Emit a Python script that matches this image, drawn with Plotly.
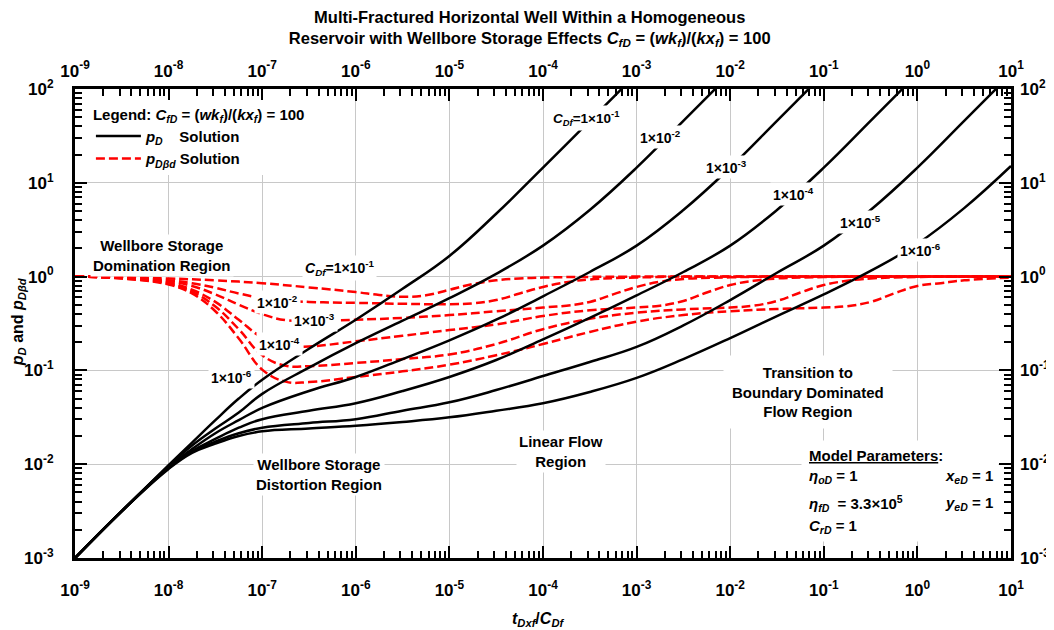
import plotly.graph_objects as go

# ---------------- data ----------------
cdf_names = ["1e-1", "1e-2", "1e-3", "1e-4", "1e-5", "1e-6"]

# black p_D curves (x = t_Dxf / C_Df)
t_grid = [1e-9, 3.16e-9, 1e-8, 1.78e-8, 3.16e-8, 5.62e-8, 1e-7, 3.16e-7, 1e-6, 3.16e-6,
          1e-5, 3.16e-5, 1e-4, 3.16e-4, 1e-3, 3.16e-3, 1e-2, 3.16e-2, 0.1, 0.316, 1, 3.16, 10]
pd_1e1 = [1e-3, 3.16e-3, 0.00977, 0.0170, 0.0295, 0.0501, 0.0794, 0.170, 0.347, 0.741,
          1.66, 4.68, 14.5, 45.7, 145]
pd_1e2 = [1e-3, 3.16e-3, 0.00955, 0.0158, 0.0240, 0.0355, 0.0562, 0.107, 0.195, 0.339,
          0.589, 1.07, 2.14, 5.13, 14.5, 45.7, 145]
pd_1e3 = [1e-3, 3.16e-3, 0.00933, 0.0145, 0.0214, 0.0295, 0.0398, 0.0603, 0.0851, 0.132,
          0.209, 0.347, 0.617, 1.12, 2.14, 5.13, 14.5, 45.7, 145]
pd_1e4 = [1e-3, 3.16e-3, 0.00912, 0.0138, 0.0186, 0.0245, 0.0302, 0.0372, 0.0447, 0.0603,
          0.0851, 0.129, 0.214, 0.363, 0.631, 1.12, 2.14, 5.13, 14.5, 45.7, 145]
pd_1e5 = [1e-3, 3.16e-3, 0.00912, 0.0135, 0.0174, 0.0214, 0.0245, 0.0275, 0.0302, 0.0372,
          0.0457, 0.0617, 0.0871, 0.123, 0.178, 0.302, 0.562, 1.10, 2.14, 5.13, 14.5, 45.7, 145]
pd_1e6 = [1e-3, 3.16e-3, 0.00891, 0.0132, 0.0166, 0.0200, 0.0224, 0.0240, 0.0257, 0.0282,
          0.0316, 0.0372, 0.0447, 0.0589, 0.0832, 0.132, 0.221, 0.380, 0.646, 1.15, 2.24, 5.37, 15.1]

# red p_Dbd curves
tb_1e1 = [1e-9, 3.16e-9, 1e-8, 3.16e-8, 1e-7, 3.16e-7, 1e-6, 1.78e-6, 3.16e-6, 5.62e-6, 1e-5,
          1.78e-5, 3.16e-5, 5.62e-5, 1e-4, 3.16e-4, 1e-3, 1e-2, 0.1, 1, 10]
pb_1e1 = [1.0, 0.982, 0.955, 0.912, 0.851, 0.767, 0.684, 0.638, 0.610, 0.631, 0.724,
          0.832, 0.912, 0.955, 0.977, 0.993, 1.0, 1.0, 1.0, 1.0, 1.0]
tb_1e2 = [1e-9, 3.16e-9, 1e-8, 1.78e-8, 3.16e-8, 5.62e-8, 1e-7, 1.78e-7, 3.16e-7, 1e-6, 3.16e-6,
          1e-5, 1.78e-5, 3.16e-5, 5.62e-5, 1e-4, 1.78e-4, 3.16e-4, 1e-3, 3.16e-3, 1e-2, 0.1, 1, 10]
pb_1e2 = [1.0, 0.977, 0.912, 0.851, 0.759, 0.661, 0.589, 0.556, 0.537, 0.525, 0.513,
          0.507, 0.519, 0.562, 0.661, 0.776, 0.871, 0.933, 0.977, 1.0, 1.0, 1.0, 1.0, 1.0]
tb_1e3 = [1e-9, 3.16e-9, 1e-8, 1.78e-8, 3.16e-8, 5.62e-8, 1e-7, 1.78e-7, 3.16e-7, 1e-6, 3.16e-6,
          1e-5, 3.16e-5, 1e-4, 1.78e-4, 3.16e-4, 5.62e-4, 1e-3, 1.78e-3, 3.16e-3, 1e-2, 3.16e-2,
          0.1, 1, 10]
pb_1e3 = [1.0, 0.973, 0.891, 0.794, 0.646, 0.501, 0.398, 0.343, 0.339, 0.347, 0.363,
          0.389, 0.427, 0.468, 0.490, 0.537, 0.646, 0.776, 0.881, 0.944, 0.982, 1.0,
          1.0, 1.0, 1.0]
tb_1e4 = [1e-9, 3.16e-9, 1e-8, 1.78e-8, 3.16e-8, 5.62e-8, 1e-7, 1.78e-7, 3.16e-7, 1e-6, 3.16e-6,
          1e-5, 3.16e-5, 1e-4, 3.16e-4, 1e-3, 1.78e-3, 3.16e-3, 5.62e-3, 1e-2, 1.78e-2, 3.16e-2,
          0.1, 0.316, 1, 10]
pb_1e4 = [1.0, 0.966, 0.861, 0.724, 0.537, 0.347, 0.224, 0.182, 0.180, 0.204, 0.234,
          0.269, 0.309, 0.380, 0.437, 0.468, 0.490, 0.550, 0.676, 0.813, 0.902, 0.955,
          0.989, 1.0, 1.0, 1.0]
tb_1e5 = [1e-9, 3.16e-9, 1e-8, 1.78e-8, 3.16e-8, 5.62e-8, 1e-7, 1.78e-7, 3.16e-7, 1e-6, 3.16e-6,
          1e-5, 3.16e-5, 1e-4, 3.16e-4, 1e-3, 3.16e-3, 1e-2, 1.78e-2, 3.16e-2, 5.62e-2, 0.1,
          0.178, 0.316, 1, 3.16, 10]
pb_1e5 = [1.0, 0.959, 0.841, 0.692, 0.479, 0.275, 0.145, 0.112, 0.111, 0.120, 0.132,
          0.148, 0.191, 0.275, 0.355, 0.412, 0.447, 0.468, 0.490, 0.550, 0.676, 0.813,
          0.902, 0.955, 0.989, 1.0, 1.0]
tb_1e6 = [1e-9, 3.16e-9, 1e-8, 1.78e-8, 3.16e-8, 5.62e-8, 1e-7, 1.78e-7, 3.16e-7, 1e-6, 3.16e-6,
          1e-5, 3.16e-5, 1e-4, 3.16e-4, 1e-3, 3.16e-3, 1e-2, 3.16e-2, 0.1, 0.178, 0.316,
          0.562, 1, 1.78, 3.16, 10]
pb_1e6 = [1.0, 0.955, 0.822, 0.661, 0.427, 0.219, 0.102, 0.0759, 0.0750, 0.0851, 0.0977,
          0.115, 0.145, 0.191, 0.257, 0.331, 0.389, 0.427, 0.452, 0.468, 0.484, 0.537,
          0.661, 0.794, 0.851, 0.912, 0.977]

# tick labels
x_tickvals = [1e-9, 1e-8, 1e-7, 1e-6, 1e-5, 1e-4, 1e-3, 1e-2, 1e-1, 1e0, 1e1]
x_ticktext = ["10<sup>-9</sup>", "10<sup>-8</sup>", "10<sup>-7</sup>", "10<sup>-6</sup>",
              "10<sup>-5</sup>", "10<sup>-4</sup>", "10<sup>-3</sup>", "10<sup>-2</sup>",
              "10<sup>-1</sup>", "10<sup>0</sup>", "10<sup>1</sup>"]
y_tickvals = [1e-3, 1e-2, 1e-1, 1e0, 1e1, 1e2]
y_ticktext = ["10<sup>-3</sup>", "10<sup>-2</sup>", "10<sup>-1</sup>", "10<sup>0</sup>",
              "10<sup>1</sup>", "10<sup>2</sup>"]

# ---------------- figure ----------------
FONT = "Liberation Sans, Arial, sans-serif"
NARROW = "Liberation Sans Narrow, Arial Narrow, Liberation Sans, sans-serif"

black_sets = [pd_1e1, pd_1e2, pd_1e3, pd_1e4, pd_1e5, pd_1e6]
red_sets = [(tb_1e1, pb_1e1), (tb_1e2, pb_1e2), (tb_1e3, pb_1e3),
            (tb_1e4, pb_1e4), (tb_1e5, pb_1e5), (tb_1e6, pb_1e6)]

fig = go.Figure()

for i, (tx, py) in enumerate(red_sets):
    fig.add_trace(go.Scatter(
        x=tx, y=py, mode="lines",
        line=dict(color="#ff0000", width=2.5, dash="9px,4px", shape="spline", smoothing=1.2),
        name="<i>p<sub>Dβd</sub></i> Solution", showlegend=(i == 0), legendrank=2,
        hoverinfo="skip", xaxis="x", yaxis="y"))

for i, pdv in enumerate(black_sets):
    fig.add_trace(go.Scatter(
        x=t_grid[:len(pdv)], y=pdv, mode="lines",
        line=dict(color="black", width=2.5, shape="spline", smoothing=1.2),
        name="<i>p<sub>D</sub></i>\u00a0\u00a0\u00a0\u00a0Solution", showlegend=(i == 0),
        legendrank=1, hoverinfo="skip", xaxis="x2", yaxis="y2"))

minor_x = [m * 10.0 ** e for e in range(-9, 1) for m in range(2, 10)]
minor_y = [m * 10.0 ** e for e in range(-3, 2) for m in range(2, 10)]

tickfont = dict(family=NARROW, size=17, color="black", weight="bold")

fig.update_layout(
    width=1054, height=630, autosize=False,
    margin=dict(l=67, r=49, t=81, b=80),
    paper_bgcolor="white", plot_bgcolor="white",
    title=dict(
        text="Multi-Fractured Horizontal Well Within a Homogeneous<br>"
             "Reservoir with Wellbore Storage Effects <i>C<sub>fD</sub></i> = "
             "(<i>wk<sub>f</sub></i>)/(<i>kx<sub>f</sub></i>) = 100",
        x=0.495, xref="container", xanchor="center",
        y=0.977, yref="container", yanchor="top",
        font=dict(family=NARROW, size=16.5, color="black", weight="bold")),
    xaxis=dict(
        type="log", range=[-9, 1], tickmode="array", tickvals=x_tickvals, ticktext=x_ticktext,
        ticks="inside", ticklen=12, tickwidth=2, tickcolor="black",
        showline=True, linewidth=3, linecolor="black", mirror="allticks",
        showgrid=True, gridcolor="#c8c8c8", gridwidth=1, zeroline=False,
        minor=dict(tickmode="array", tickvals=minor_x, ticks="inside", ticklen=7,
                   tickwidth=1.5, tickcolor="black", showgrid=False),
        tickfont=tickfont, ticklabelstandoff=15),
    yaxis=dict(
        type="log", range=[-3, 2], tickmode="array", tickvals=y_tickvals, ticktext=y_ticktext,
        ticks="inside", ticklen=12, tickwidth=2, tickcolor="black",
        showline=True, linewidth=3, linecolor="black", mirror="allticks",
        showgrid=True, gridcolor="#c8c8c8", gridwidth=1, zeroline=False,
        minor=dict(tickmode="array", tickvals=minor_y, ticks="inside", ticklen=7,
                   tickwidth=1.5, tickcolor="black", showgrid=False),
        tickfont=tickfont, ticklabelstandoff=15),
    xaxis2=dict(
        type="log", range=[-9, 1], overlaying="x", side="top", anchor="y2",
        tickmode="array", tickvals=x_tickvals, ticktext=x_ticktext, ticks="",
        showline=False, showgrid=False, zeroline=False, tickfont=tickfont,
        ticklabelstandoff=8),
    yaxis2=dict(
        type="log", range=[-3, 2], overlaying="y", side="right", anchor="x2",
        tickmode="array", tickvals=y_tickvals, ticktext=y_ticktext, ticks="",
        showline=False, showgrid=False, zeroline=False, tickfont=tickfont,
        ticklabelstandoff=8),
    legend=dict(
        x=0.017, y=0.976, xanchor="left", yanchor="top", bgcolor="white", borderwidth=0,
        itemwidth=45, tracegroupgap=0,
        font=dict(family=FONT, size=15, color="black", weight="bold"),
        title=dict(text="Legend: <i>C<sub>fD</sub></i> = (<i>wk<sub>f</sub></i>)/"
                        "(<i>kx<sub>f</sub></i>) = 100",
                   font=dict(family=FONT, size=15, color="black", weight="bold"))),
)

def ann(text, x, y, size=15, xanchor="center", yanchor="middle", bg="white", pad=2,
        xref="x", yref="y", **kw):
    fig.add_annotation(text=text, x=x, y=y, xref=xref, yref=yref, showarrow=False,
                       xanchor=xanchor, yanchor=yanchor, bgcolor=bg, borderpad=pad,
                       font=dict(family=FONT, size=size, color="black", weight="bold"), **kw)

# region labels
ann("Wellbore Storage<br>Domination Region", -8.07, 0.22)
ann("Wellbore Storage<br>Distortion Region", -6.39, -2.115)
ann("Linear Flow<br>Region", -3.81, -1.86)
ann("Transition to<br>Boundary Dominated<br>Flow Region", -1.164, -1.23, pad=8)

# red curve labels
ann("<i>C<sub>Df</sub></i>=1×10<sup>-1</sup>", -6.175, 0.092, size=14)
ann("1×10<sup>-2</sup>", -6.836, -0.271, size=14)
ann("1×10<sup>-3</sup>", -6.44, -0.463, size=14)
ann("1×10<sup>-4</sup>", -6.81, -0.72, size=14)
ann("1×10<sup>-6</sup>", -7.33, -1.07, size=14)

# black curve labels
ann("<i>C<sub>Df</sub></i>=1×10<sup>-1</sup>", -3.54, 1.69, size=13.5)
ann("1×10<sup>-2</sup>", -2.742, 1.488, size=14)
ann("1×10<sup>-3</sup>", -2.04, 1.17, size=14)
ann("1×10<sup>-4</sup>", -1.324, 0.88, size=14)
ann("1×10<sup>-5</sup>", -0.61, 0.58, size=14)
ann("1×10<sup>-6</sup>", 0.03, 0.284, size=14)

# model parameters block
fig.add_annotation(text="\u00a0", x=-1.239, y=-1.742, xref="x", yref="y", showarrow=False,
                   xanchor="left", yanchor="top", width=196, height=100, bgcolor="white",
                   borderpad=0)
ann("<u>Model Parameters</u>:", -1.185, -1.902, xanchor="left", bg="rgba(0,0,0,0)")
ann("<i>η<sub>oD</sub></i> = 1", -1.185, -2.126, xanchor="left", bg="rgba(0,0,0,0)")
ann("<i>x<sub>eD</sub></i> = 1", 0.84, -2.126, xanchor="right", bg="rgba(0,0,0,0)")
ann("<i>η<sub>fD</sub></i>\u00a0 = 3.3×10<sup>5</sup>", -1.185, -2.414, xanchor="left",
    bg="rgba(0,0,0,0)")
ann("<i>y<sub>eD</sub></i> = 1", 0.84, -2.414, xanchor="right", bg="rgba(0,0,0,0)")
ann("<i>C<sub>rD</sub></i> = 1", -1.185, -2.659, xanchor="left", bg="rgba(0,0,0,0)")

# axis titles
ann("<i>t<sub>Dxf</sub></i>/<i>C<sub>Df</sub></i>", 0.4947, -0.132, size=16,
    xref="paper", yref="paper", bg="rgba(0,0,0,0)")
ann("<i>p<sub>D</sub></i> and <i>p<sub>Dβd</sub></i>", -0.0608, 0.503, size=16,
    xref="paper", yref="paper", bg="rgba(0,0,0,0)", textangle=-90)

fig.write_html("out.html")
